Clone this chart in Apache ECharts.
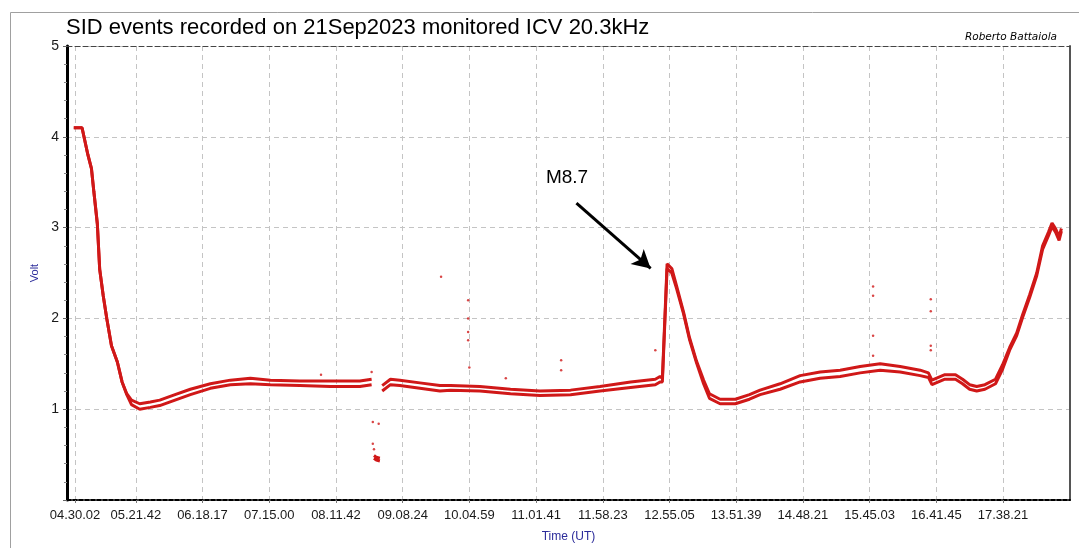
<!DOCTYPE html>
<html>
<head>
<meta charset="utf-8">
<script src="https://cdn.jsdelivr.net/npm/echarts@6/dist/echarts.min.js"></script>
<style>
  html, body { margin: 0; padding: 0; background: #fff; }
  #chart { width: 1079px; height: 548px; }
</style>
</head>
<body>
<div id="chart"></div>
<script>
// x axis tick labels (UT)
const tickLabels = ['04.30.02', '05.21.42', '06.18.17', '07.15.00', '08.11.42', '09.08.24', '10.04.59',
    '11.01.41', '11.58.23', '12.55.05', '13.51.39', '14.48.21', '15.45.03', '16.41.45', '17.38.21'];

// signal: lower and upper edge of the dotted band (null = gap)
const times = ['04:29', '04:36', '04:41', '04:44', '04:46', '04:49', '04:51', '04:54', '04:57', '05:01',
    '05:06', '05:10', '05:14', '05:18', '05:25', '05:34', '05:42', '05:55', '06:08', '06:25',
    '06:42', '06:59', '07:16', '07:41', '08:07', '08:32', '08:42', '08:43', '08:44', '08:46',
    '08:49', '08:50', '08:51', '08:58', '09:06', '09:23', '09:40', '09:49', '10:14', '10:40',
    '11:05', '11:31', '11:56', '12:22', '12:43', '12:47', '12:49', '12:53', '12:57', '13:01',
    '13:07', '13:12', '13:18', '13:24', '13:29', '13:38', '13:51', '14:03', '14:12', '14:29',
    '14:46', '15:03', '15:20', '15:37', '15:54', '16:11', '16:28', '16:35', '16:38', '16:49',
    '16:58', '17:04', '17:10', '17:16', '17:23', '17:32', '17:38', '17:44', '17:50', '17:55',
    '18:01', '18:07', '18:12', '18:17', '18:20', '18:23', '18:26', '18:28'];
const voltLow = [4.10, 4.10, 3.80, 3.65, 3.40, 3.04, 2.54, 2.25, 2.00, 1.70,
    1.52, 1.30, 1.16, 1.05, 1.00, 1.02, 1.04, 1.10, 1.16, 1.23,
    1.27, 1.28, 1.27, 1.26, 1.25, 1.25, 1.27, null, 0.46, 0.44,
    0.43, null, 1.20, 1.27, 1.26, 1.23, 1.20, 1.21, 1.20, 1.17,
    1.15, 1.16, 1.20, 1.24, 1.27, 1.30, 1.30, 2.55, 2.50, 2.33,
    2.05, 1.77, 1.51, 1.28, 1.12, 1.06, 1.06, 1.11, 1.16, 1.22,
    1.30, 1.34, 1.36, 1.40, 1.43, 1.41, 1.37, 1.35, 1.27, 1.33,
    1.33, 1.28, 1.22, 1.20, 1.22, 1.28, 1.44, 1.65, 1.81, 2.01,
    2.23, 2.47, 2.76, 2.91, 3.01, 2.95, 2.86, 2.96];
const voltHigh = [4.10, 4.10, 3.80, 3.65, 3.40, 3.04, 2.54, 2.25, 2.00, 1.70,
    1.52, 1.30, 1.17, 1.10, 1.06, 1.08, 1.10, 1.16, 1.22, 1.28,
    1.32, 1.34, 1.32, 1.31, 1.31, 1.31, 1.33, null, 0.49, 0.47,
    0.46, null, 1.26, 1.33, 1.32, 1.29, 1.26, 1.26, 1.25, 1.22,
    1.20, 1.21, 1.25, 1.30, 1.33, 1.36, 1.34, 2.60, 2.55, 2.36,
    2.07, 1.79, 1.53, 1.32, 1.17, 1.11, 1.11, 1.16, 1.21, 1.28,
    1.37, 1.41, 1.43, 1.47, 1.50, 1.47, 1.43, 1.40, 1.32, 1.38,
    1.38, 1.33, 1.27, 1.25, 1.27, 1.33, 1.49, 1.68, 1.84, 2.04,
    2.26, 2.50, 2.80, 2.95, 3.05, 2.99, 2.90, 2.99];

// isolated stray samples
const spikeTimes = ['07:59', '08:42', '08:43', '08:43', '08:44', '08:48', '09:41', '10:04', '10:04', '10:04',
    '10:04', '10:05', '10:36', '11:23', '11:23', '12:43', '15:48', '15:48', '15:48', '15:48',
    '16:37', '16:37', '16:37', '16:37'];
const spikeVolts = [1.38, 1.41, 0.86, 0.62, 0.56, 0.84, 2.46, 2.20, 2.00, 1.85,
    1.76, 1.46, 1.34, 1.54, 1.43, 1.65, 2.35, 2.25, 1.81, 1.59,
    2.21, 2.08, 1.70, 1.65];

// flare annotation
const flareLabel = 'M8.7';

function toHours(s) {
    const p = s.split(/[:.]/).map(Number);
    return p[0] + p[1] / 60 + (p[2] || 0) / 3600;
}

const tickValues = tickLabels.map(toHours);
const lowData = times.map((t, i) => [toHours(t), voltLow[i] === null ? NaN : voltLow[i]]);
const highData = times.map((t, i) => [toHours(t), voltHigh[i] === null ? NaN : voltHigh[i]]);
const spikeData = spikeTimes.map((t, i) => [toHours(t), spikeVolts[i]]);

const red = '#d01818';
const xMin = 4.387, xMax = 18.588;

const chart = echarts.init(document.getElementById('chart'));
chart.setOption({
    animation: false,
    backgroundColor: '#fff',
    title: [
        {
            text: 'SID events recorded on 21Sep2023 monitored ICV 20.3kHz',
            left: 61, top: 12,
            textStyle: { fontFamily: 'Liberation Sans, Arial', fontSize: 22, fontWeight: 'normal', color: '#000' }
        },
        {
            text: 'Roberto Battaiola',
            right: 17, top: 27,
            textStyle: { fontFamily: 'DejaVu Sans', fontSize: 10.5, fontStyle: 'italic', fontWeight: 'normal', color: '#000' }
        }
    ],
    graphic: [{
        type: 'rect', left: 8, top: 10, silent: true,
        shape: { width: 1200, height: 700 },
        style: { fill: 'none', stroke: '#a0a0a0', lineWidth: 1 }
    }],
    grid: { left: 67, right: 9, top: 46, bottom: 41 },
    xAxis: [
        {
            type: 'value', min: xMin, max: xMax,
            name: 'Time (UT)', nameLocation: 'middle', nameGap: 31,
            nameTextStyle: { color: '#2b2b9a', fontFamily: 'Liberation Sans, Arial', fontSize: 12 },
            axisLine: { onZero: false, lineStyle: { color: '#000', width: 2, type: [4, 2] } },
            axisTick: { show: true, customValues: tickValues, length: 3, lineStyle: { color: '#777' } },
            axisLabel: {
                customValues: tickValues, margin: 9,
                color: '#1a1a1a', fontFamily: 'Liberation Sans, Arial', fontSize: 13,
                formatter: v => tickLabels[tickValues.findIndex(t => Math.abs(t - v) < 1e-6)]
            },
            splitLine: { show: true, lineStyle: { color: '#c4c4c4', type: [5, 4] } }
        },
        {
            type: 'value', min: xMin, max: xMax, position: 'top',
            axisLine: { show: true, onZero: false, lineStyle: { color: '#444', width: 1, type: [5, 3] } },
            axisTick: { show: false }, axisLabel: { show: false }, splitLine: { show: false }
        }
    ],
    yAxis: [
        {
            type: 'value', min: 0, max: 5, interval: 1,
            name: 'Volt', nameLocation: 'middle', nameGap: 24,
            nameTextStyle: { color: '#2b2b9a', fontFamily: 'Liberation Sans, Arial', fontSize: 11 },
            axisLine: { show: true, lineStyle: { color: '#000', width: 3 } },
            axisTick: { show: true, length: 4, lineStyle: { color: '#666' } },
            minorTick: { show: true, splitNumber: 5, length: 3, lineStyle: { color: '#888' } },
            axisLabel: {
                margin: 8, color: '#1a1a1a', fontFamily: 'Liberation Sans, Arial', fontSize: 14,
                formatter: v => (v === 0 ? '' : String(v))
            },
            splitLine: { show: true, lineStyle: { color: '#c4c4c4', type: [5, 4] } }
        },
        {
            type: 'value', min: 0, max: 5, position: 'right',
            axisLine: { show: true, lineStyle: { color: '#555', width: 2 } },
            axisTick: { show: false }, axisLabel: { show: false }, splitLine: { show: false }
        }
    ],
    series: [
        {
            name: 'band low', type: 'line', data: lowData, showSymbol: false,
            lineStyle: { color: red, width: 3 }, connectNulls: false,
            markLine: {
                silent: true, symbol: ['none', 'arrow'], symbolSize: [15, 18],
                lineStyle: { color: '#000', width: 3, type: 'solid' },
                label: { show: false },
                data: [[{ coord: [toHours('11:36'), 3.27] }, { coord: [toHours('12:39'), 2.55] }]]
            },
            markPoint: {
                silent: true, symbol: 'circle', symbolSize: 0,
                label: {
                    show: true, formatter: flareLabel, color: '#000',
                    fontFamily: 'Liberation Sans, Arial', fontSize: 19
                },
                data: [{ coord: [toHours('11:28'), 3.55] }]
            }
        },
        {
            name: 'band high', type: 'line', data: highData, showSymbol: false,
            lineStyle: { color: red, width: 3 }, connectNulls: false
        },
        {
            name: 'strays', type: 'scatter', data: spikeData,
            symbolSize: 2.5, itemStyle: { color: red }
        }
    ]
});
</script>
</body>
</html>
